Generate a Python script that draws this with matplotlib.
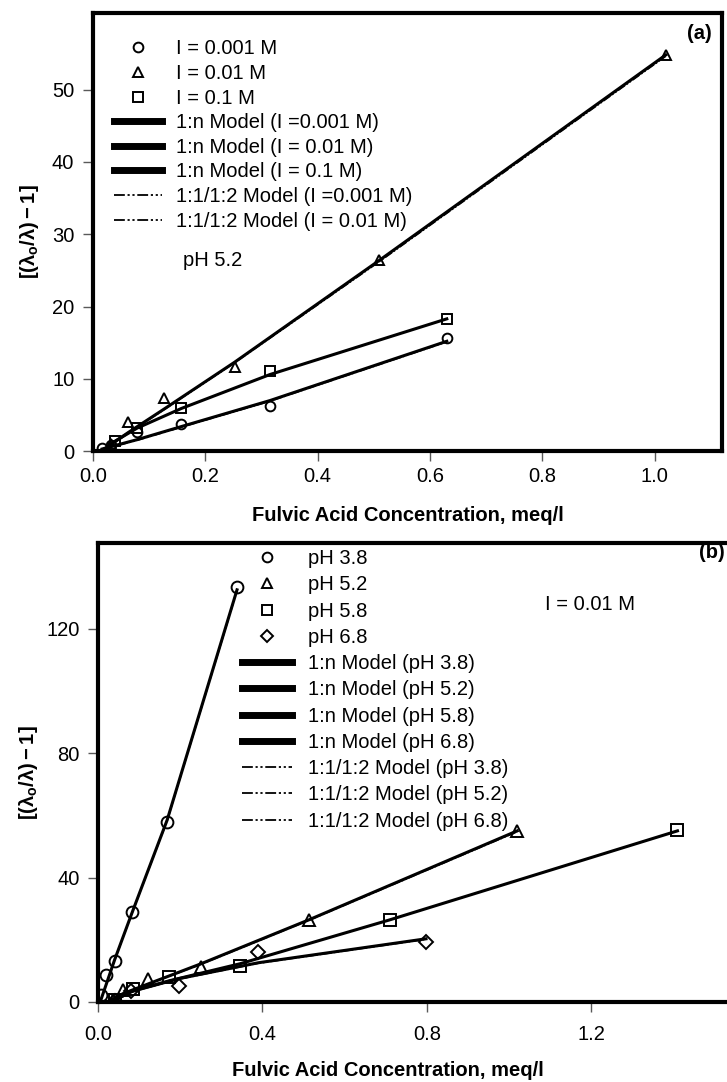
import matplotlib
matplotlib.use('Agg')
import matplotlib.pyplot as plt
from matplotlib.lines import Line2D

plt.rcParams['font.family'] = ['Liberation Sans', 'DejaVu Sans']
plt.rcParams['mathtext.fontset'] = 'custom'
plt.rcParams['mathtext.rm'] = 'Liberation Sans'
plt.rcParams['mathtext.bf'] = 'Liberation Sans:bold'
plt.rcParams['mathtext.it'] = 'Liberation Sans:italic'

# ---------------- panel (a): pH 5.2, three ionic strengths ----------------
a_x_001 = [0.0157, 0.0315, 0.0787, 0.157, 0.315, 0.63]
a_y_001 = [0.4, 0.9, 2.6, 3.8, 6.3, 15.6]
a_x_01 = [0.0315, 0.063, 0.126, 0.252, 0.51, 1.02]
a_y_01 = [1.0, 4.0, 7.3, 11.6, 26.4, 54.8]
a_x_1 = [0.039, 0.0787, 0.157, 0.315, 0.63]
a_y_1 = [1.4, 3.2, 6.0, 11.1, 18.3]

# 1:n model curves
a_mx_001 = [0.016, 0.0787, 0.157, 0.315, 0.63]
a_my_001 = [0.3, 1.6, 3.4, 7.0, 15.2]
a_mx_01 = [0.02, 0.063, 0.126, 0.252, 0.51, 1.02]
a_my_01 = [0.3, 2.6, 5.8, 12.3, 26.4, 54.8]
a_mx_1 = [0.035, 0.0787, 0.157, 0.315, 0.63]
a_my_1 = [1.2, 3.2, 5.9, 10.6, 18.3]
# 1:1/1:2 model curves (almost on top of the 1:n ones)
a_dx_001 = [0.016, 0.0787, 0.157, 0.315, 0.63]
a_dy_001 = [0.2, 1.5, 3.3, 6.9, 15.1]
a_dx_01 = [0.02, 0.063, 0.126, 0.252, 0.51, 1.02]
a_dy_01 = [0.2, 2.5, 5.7, 12.2, 26.2, 54.6]

# ---------------- panel (b): I = 0.01 M, four pH values ----------------
b_x_38 = [0.008, 0.018, 0.04, 0.082, 0.168, 0.338]
b_y_38 = [2.3, 8.8, 13.0, 29.0, 58.0, 133.5]
b_x_52 = [0.037, 0.061, 0.122, 0.251, 0.513, 1.02]
b_y_52 = [0.7, 3.9, 7.3, 11.2, 26.2, 55.0]
b_x_58 = [0.04, 0.086, 0.173, 0.346, 0.71, 1.41]
b_y_58 = [0.7, 4.2, 8.1, 11.5, 26.4, 55.3]
b_x_68 = [0.04, 0.08, 0.197, 0.39, 0.798]
b_y_68 = [0.3, 3.5, 5.0, 15.9, 19.4]

b_mx_38 = [0.005, 0.04, 0.082, 0.168, 0.338]
b_my_38 = [0.0, 13.5, 28.5, 58.5, 132.5]
b_mx_52 = [0.03, 0.061, 0.122, 0.251, 0.513, 1.02]
b_my_52 = [0.5, 2.7, 5.8, 12.3, 26.4, 55.0]
b_mx_58 = [0.035, 0.086, 0.173, 0.346, 0.71, 1.41]
b_my_58 = [0.3, 3.6, 6.8, 12.3, 26.4, 55.0]
b_mx_68 = [0.04, 0.08, 0.197, 0.39, 0.798]
b_my_68 = [0.5, 3.3, 7.5, 12.6, 20.3]

b_dy_38 = [0.0, 13.3, 28.3, 58.2, 132.1]
b_dy_52 = [0.4, 2.6, 5.7, 12.1, 26.2, 54.7]
b_dy_68 = [0.4, 3.2, 7.3, 12.4, 20.1]

FS = 14.5
LW = 2.2
DASH = (0, (6, 1.5, 1.2, 1.5, 1.2, 1.5))
ylab = r'$\mathbf{[(\lambda_o/\lambda)-1]}$'

fig = plt.figure(figsize=(7.27, 10.82), dpi=100)
ax1 = fig.add_axes([0.128, 0.583, 0.865, 0.405])
ax2 = fig.add_axes([0.135, 0.074, 0.876, 0.424])


def style_axes(ax, xpad):
    for s in ax.spines.values():
        s.set_linewidth(3)
    ax.tick_params(direction='out', length=7.5, width=1, color='0.35',
                   labelsize=FS)
    ax.tick_params(axis='y', pad=6)
    ax.tick_params(axis='x', pad=xpad)


# ---- panel a
ax1.plot(a_mx_001, a_my_001, color='k', lw=LW)
ax1.plot(a_mx_01, a_my_01, color='k', lw=LW)
ax1.plot(a_mx_1, a_my_1, color='k', lw=LW)
ax1.plot(a_dx_001, a_dy_001, color='k', lw=1, ls=DASH)
ax1.plot(a_dx_01, a_dy_01, color='k', lw=1, ls=DASH)
mk = dict(ls='none', mfc='none', mec='k', mew=1.4, ms=7)
ax1.plot(a_x_001, a_y_001, marker='o', **mk)
ax1.plot(a_x_01, a_y_01, marker='^', **mk)
ax1.plot(a_x_1, a_y_1, marker='s', **mk)

ax1.set_xlim(0, 1.12)
ax1.set_ylim(0, 60.6)
ax1.set_xticks([0.0, 0.2, 0.4, 0.6, 0.8, 1.0])
ax1.set_xticklabels(['0.0', '0.2', '0.4', '0.6', '0.8', '1.0'])
ax1.set_yticks([0, 10, 20, 30, 40, 50])
style_axes(ax1, 4)
ax1.set_xlabel('Fulvic Acid Concentration, meq/l', fontsize=FS, fontweight='bold')
ax1.xaxis.set_label_coords(0.5, -0.124)
ax1.set_ylabel(ylab, fontsize=FS)
ax1.yaxis.set_label_coords(-0.082, 0.5)

hk = dict(color='k', mfc='none', mec='k', mew=1.4, ms=7)
handles_a = [
    Line2D([], [], ls='none', marker='o', **hk),
    Line2D([], [], ls='none', marker='^', **hk),
    Line2D([], [], ls='none', marker='s', **hk),
    Line2D([], [], color='k', lw=5),
    Line2D([], [], color='k', lw=5),
    Line2D([], [], color='k', lw=5),
    Line2D([], [], color='k', lw=1.3, ls=DASH),
    Line2D([], [], color='k', lw=1.3, ls=DASH),
]
labels_a = ['I = 0.001 M', 'I = 0.01 M', 'I = 0.1 M',
            '1:n Model (I =0.001 M)', '1:n Model (I = 0.01 M)',
            '1:n Model (I = 0.1 M)', '1:1/1:2 Model (I =0.001 M)',
            '1:1/1:2 Model (I = 0.01 M)']
ax1.legend(handles_a, labels_a, loc='upper left', bbox_to_anchor=(0.033, 0.94),
           frameon=False, fontsize=FS, handlelength=2.4, handletextpad=0.7,
           labelspacing=0.28, borderpad=0, borderaxespad=0)
ax1.text(0.143, 0.436, 'pH 5.2', transform=ax1.transAxes, fontsize=FS,
         va='center', ha='left')
ax1.text(0.984, 0.954, '(a)', transform=ax1.transAxes, fontsize=FS,
         fontweight='bold', va='center', ha='right')

# ---- panel b
ax2.plot(b_mx_38, b_my_38, color='k', lw=LW)
ax2.plot(b_mx_52, b_my_52, color='k', lw=LW)
ax2.plot(b_mx_58, b_my_58, color='k', lw=LW)
ax2.plot(b_mx_68, b_my_68, color='k', lw=LW)
ax2.plot(b_mx_38, b_dy_38, color='k', lw=1, ls=DASH)
ax2.plot(b_mx_52, b_dy_52, color='k', lw=1, ls=DASH)
ax2.plot(b_mx_68, b_dy_68, color='k', lw=1, ls=DASH)
mk2 = dict(ls='none', mfc='none', mec='k', mew=1.4, ms=8.5)
ax2.plot(b_x_38, b_y_38, marker='o', **mk2)
ax2.plot(b_x_52, b_y_52, marker='^', **mk2)
ax2.plot(b_x_58, b_y_58, marker='s', **mk2)
ax2.plot(b_x_68, b_y_68, marker='D', **dict(mk2, ms=7.5))

ax2.set_xlim(0, 1.55)
ax2.set_ylim(0, 147.5)
ax2.set_xticks([0.0, 0.4, 0.8, 1.2])
ax2.set_xticklabels(['0.0', '0.4', '0.8', '1.2'])
ax2.set_yticks([0, 40, 80, 120])
style_axes(ax2, 9)
ax2.set_xlabel('Fulvic Acid Concentration, meq/l', fontsize=FS, fontweight='bold')
ax2.xaxis.set_label_coords(0.455, -0.128)
ax2.set_ylabel(ylab, fontsize=FS)
ax2.yaxis.set_label_coords(-0.092, 0.5)

hk2 = dict(color='k', mfc='none', mec='k', mew=1.4, ms=7)
handles_b = [
    Line2D([], [], ls='none', marker='o', **hk2),
    Line2D([], [], ls='none', marker='^', **hk2),
    Line2D([], [], ls='none', marker='s', **hk2),
    Line2D([], [], ls='none', marker='D', **dict(hk2, ms=6)),
    Line2D([], [], color='k', lw=5),
    Line2D([], [], color='k', lw=5),
    Line2D([], [], color='k', lw=5),
    Line2D([], [], color='k', lw=5),
    Line2D([], [], color='k', lw=1.3, ls=DASH),
    Line2D([], [], color='k', lw=1.3, ls=DASH),
    Line2D([], [], color='k', lw=1.3, ls=DASH),
]
labels_b = ['pH 3.8', 'pH 5.2', 'pH 5.8', 'pH 6.8',
            '1:n Model (pH 3.8)', '1:n Model (pH 5.2)',
            '1:n Model (pH 5.8)', '1:n Model (pH 6.8)',
            '1:1/1:2 Model (pH 3.8)', '1:1/1:2 Model (pH 5.2)',
            '1:1/1:2 Model (pH 6.8)']
ax2.legend(handles_b, labels_b, loc='upper left', bbox_to_anchor=(0.226, 0.987),
           frameon=False, fontsize=FS, handlelength=2.5, handletextpad=0.75,
           labelspacing=0.36, borderpad=0, borderaxespad=0)
ax2.text(0.702, 0.867, 'I = 0.01 M', transform=ax2.transAxes, fontsize=FS,
         va='center', ha='left')
ax2.text(0.943, 0.980, '(b)', transform=ax2.transAxes, fontsize=FS,
         fontweight='bold', va='center', ha='left')

fig.savefig('out.png', dpi=100)
